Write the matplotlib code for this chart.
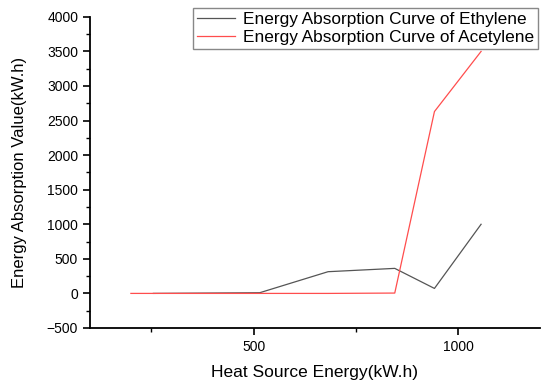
import matplotlib
matplotlib.use("Agg")
import matplotlib.pyplot as plt
from matplotlib.ticker import MultipleLocator, FixedLocator

plt.rcParams['font.family'] = ['Liberation Sans', 'DejaVu Sans']

# data
ethylene_x = [255, 515, 682, 845, 942, 1056]
ethylene_y = [0, 10, 314, 362, 72, 1000]
acetylene_x = [200, 515, 682, 845, 942, 1056]
acetylene_y = [0, 0, 0, 5, 2630, 3500]

labels = ["Energy Absorption Curve of Ethylene",
          "Energy Absorption Curve of Acetylene"]

fig = plt.figure(figsize=(5.5, 3.87), dpi=100)
ax = fig.add_axes([0.1636, 0.1525, 0.8182, 0.804])

ax.plot(ethylene_x, ethylene_y, color='#555555', lw=0.9, label=labels[0])
ax.plot(acetylene_x, acetylene_y, color='#ff4d4d', lw=0.9, label=labels[1])

ax.set_xlim(100, 1200)
ax.set_ylim(-500, 4000)

ax.xaxis.set_major_locator(FixedLocator([500, 1000]))
ax.xaxis.set_minor_locator(FixedLocator([250, 750]))
ax.yaxis.set_major_locator(MultipleLocator(500))
ax.yaxis.set_minor_locator(MultipleLocator(250))

for s in ['top', 'right']:
    ax.spines[s].set_visible(False)
for s in ['left', 'bottom']:
    ax.spines[s].set_linewidth(1.3)

ax.tick_params(which='major', direction='out', length=5, width=1.2, labelsize=10)
ax.tick_params(which='minor', direction='out', length=3, width=1.0)

ax.set_xlabel("Heat Source Energy(kW.h)", fontsize=12.5, labelpad=8)
ax.set_ylabel("Energy Absorption Value(kW.h)", fontsize=12, labelpad=14)

leg = ax.legend(loc='upper right', bbox_to_anchor=(538 / 550, 1 - 8 / 387),
                bbox_transform=fig.transFigure, borderaxespad=0,
                fancybox=False, fontsize=12.4, handlelength=2.2,
                handletextpad=0.45, labelspacing=0.15, borderpad=0.25,
                framealpha=1)
leg.get_frame().set_edgecolor('#888888')
leg.get_frame().set_linewidth(1.0)

fig.savefig("out.png", dpi=100)
